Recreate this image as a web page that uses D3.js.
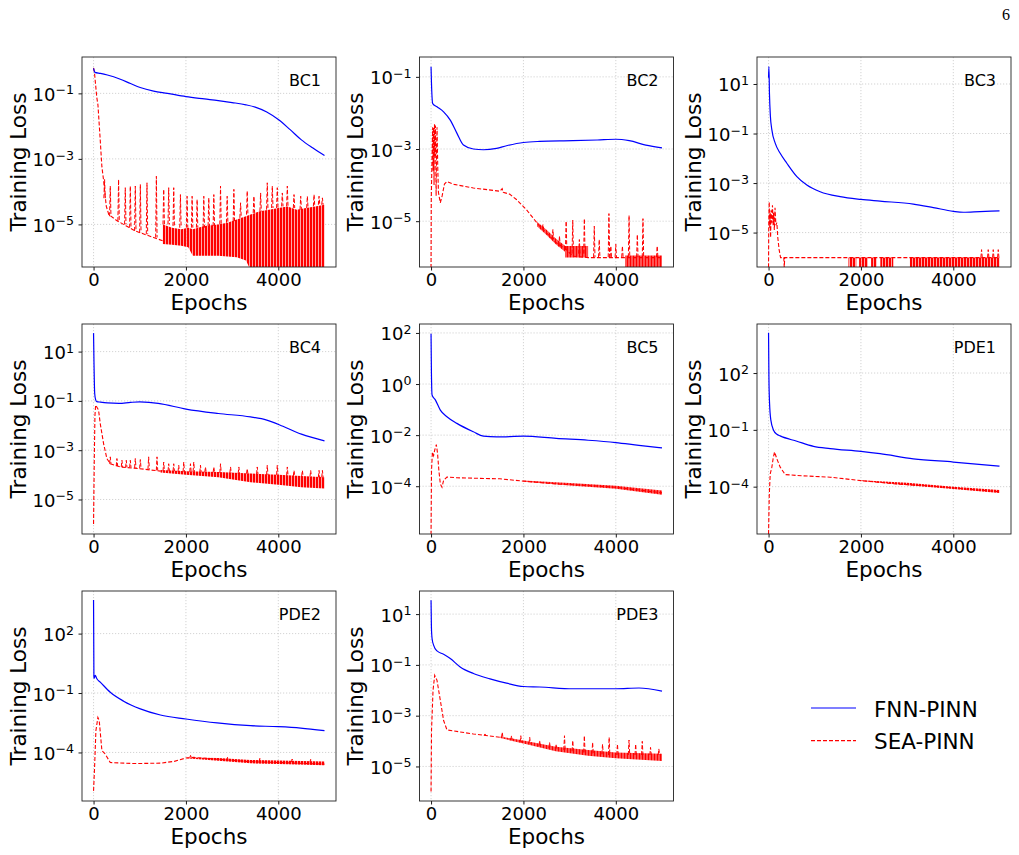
<!DOCTYPE html>
<html>
<head>
<meta charset="utf-8">
<script src="https://cdn.jsdelivr.net/npm/d3@7"></script>
<style>
  body { margin: 0; background: #fff; }
  svg { font-family: "DejaVu Sans", sans-serif; }
</style>
</head>
<body>
<svg id="chart" width="1019" height="855"></svg>
<script>
// values are log10(training loss)
var panelNames = ["BC1", "BC2", "BC3", "BC4", "BC5", "PDE1", "PDE2", "PDE3"];
var yLimits = [[-6.30, 0.11], [-6.27, -0.45], [-6.39, 2.09], [-6.40, 2.12],
               [-5.87, 2.35], [-6.50, 4.59], [-6.45, 4.15], [-6.36, 1.91]];
var yTickExps = [[-1, -3, -5], [-1, -3, -5], [1, -1, -3, -5], [1, -1, -3, -5],
                 [2, 0, -2, -4], [2, -1, -4], [2, -1, -4], [1, -1, -3, -5]];
var xTicks = [0, 2000, 4000];
var xLimits = [-250, 5249];
var seriesNames = ["FNN-PINN", "SEA-PINN"];

// FNN-PINN
var bc1Fnn = [[0,-0.24],[30,-0.36],[150,-0.39],[300,-0.44],[580,-0.57],[800,-0.70],[1010,-0.82],[1300,-0.93],[1600,-1.0],[2000,-1.1],[2400,-1.17],[2700,-1.22],[3000,-1.28],[3300,-1.35],[3500,-1.42],[3750,-1.57],[4000,-1.8],[4250,-2.1],[4500,-2.42],[4750,-2.67],[5000,-2.9]];
var bc2Fnn = [[0,-0.72],[10,-1.2],[36,-1.74],[129,-1.83],[272,-1.97],[416,-2.2],[559,-2.56],[702,-2.89],[917,-3.0],[1133,-3.02],[1419,-2.98],[1634,-2.91],[2000,-2.82],[2350,-2.79],[3070,-2.77],[3600,-2.75],[4000,-2.73],[4290,-2.77],[4650,-2.89],[5000,-2.97]];
var bc3Fnn = [[0,1.25],[8,1.7],[20,0.6],[40,-0.3],[72,-0.85],[144,-1.39],[252,-1.8],[396,-2.2],[613,-2.74],[829,-3.08],[1117,-3.35],[1549,-3.55],[2000,-3.66],[2414,-3.73],[3135,-3.85],[3567,-3.99],[4000,-4.14],[4216,-4.18],[4576,-4.15],[5000,-4.12]];
var bc4Fnn = [[0,1.75],[10,0.5],[25,-0.7],[45,-0.95],[70,-1.03],[150,-1.05],[300,-1.08],[550,-1.1],[800,-1.06],[1000,-1.04],[1200,-1.06],[1400,-1.1],[2000,-1.33],[2700,-1.51],[3400,-1.65],[3750,-1.78],[4100,-2.03],[4500,-2.35],[5000,-2.62]];
var bc5Fnn = [[0,1.97],[8,0.5],[22,-0.43],[93,-0.62],[201,-1.02],[344,-1.28],[559,-1.54],[917,-1.87],[1133,-2.04],[1419,-2.07],[2000,-2.04],[2710,-2.13],[3400,-2.2],[4000,-2.29],[4500,-2.4],[5000,-2.5]];
var pde1Fnn = [[0,4.13],[8,1.82],[22,0.4],[50,-0.49],[108,-1.02],[180,-1.23],[252,-1.32],[613,-1.6],[973,-1.87],[1333,-1.99],[2000,-2.14],[2414,-2.26],[3135,-2.53],[4000,-2.7],[5000,-2.92]];
var pde2Fnn = [[0,3.69],[8,-0.2],[14,-0.25],[36,-0.11],[72,-0.28],[145,-0.45],[362,-0.96],[651,-1.41],[1013,-1.8],[1447,-2.11],[2000,-2.31],[2676,-2.51],[3400,-2.65],[4000,-2.7],[4485,-2.77],[5000,-2.9]];
var pde3Fnn = [[0,1.55],[8,0.5],[22,0.04],[57,-0.23],[129,-0.45],[272,-0.58],[416,-0.75],[631,-1.08],[917,-1.34],[1276,-1.55],[1634,-1.72],[2000,-1.85],[2351,-1.87],[3068,-1.94],[4000,-1.94],[4502,-1.91],[5000,-2.03]];

// SEA-PINN main trace
var bc1Sea = [[0,-0.22],[20,-0.37],[70,-1.12],[95,-1.35],[145,-2.43],[180,-3.23],[215,-3.63],[275,-4.44],[330,-4.7],[500,-4.88],[700,-5.04],[900,-5.2],[1100,-5.3],[1300,-5.4],[1500,-5.5]];
var bc2Sea = [[0,-6.3],[5,-4.4],[20,-3.3],[35,-2.4],[45,-3.6],[55,-2.4],[65,-4.0],[75,-2.3],[85,-3.2],[95,-2.35],[110,-4.3],[120,-3.0],[130,-2.4],[145,-3.5],[160,-4.2],[200,-4.49],[240,-4.3],[290,-3.97],[344,-3.9],[500,-3.98],[917,-4.08],[1491,-4.17],[1540,-4.1],[1560,-4.2],[1700,-4.25],[1849,-4.4],[2064,-4.68],[2208,-4.91],[2351,-5.14],[2494,-5.32],[2710,-5.6],[2925,-5.78],[3068,-5.97],[3400,-6.01],[5000,-6.01]];
var bc3Sea = [[0,-6.4],[5,-4.5],[15,-3.76],[25,-4.8],[35,-4.2],[45,-5.2],[55,-4.1],[70,-4.6],[85,-3.9],[100,-4.7],[110,-4.2],[125,-4.9],[140,-4.0],[160,-4.7],[180,-4.6],[200,-5.2],[230,-5.7],[260,-6.01],[330,-6.01],[340,-6.4],[350,-6.01],[5000,-6.01]];
var bc4Sea = [[0,-5.99],[15,-3.5],[30,-1.6],[45,-1.17],[70,-1.25],[108,-1.37],[145,-1.92],[217,-2.73],[289,-3.34],[362,-3.55],[579,-3.68],[1000,-3.75],[1450,-3.85]];
var bc5Sea = [[0,-5.9],[10,-3.38],[30,-2.66],[55,-2.8],[79,-2.59],[100,-2.45],[115,-2.37],[140,-2.7],[170,-3.4],[201,-3.91],[237,-4.04],[272,-3.77],[344,-3.64],[559,-3.67],[1491,-3.71],[2000,-3.8],[2710,-3.91],[3400,-3.97],[4000,-4.04],[4500,-4.15],[5000,-4.26]];
var pde1Sea = [[0,-6.5],[15,-4.5],[36,-3.33],[72,-2.97],[100,-2.5],[130,-2.17],[180,-2.53],[252,-2.97],[360,-3.36],[613,-3.41],[1333,-3.5],[2000,-3.68],[2775,-3.86],[3400,-3.95],[4000,-4.07],[5000,-4.27]];
var pde2Sea = [[0,-5.94],[22,-4.76],[51,-2.9],[94,-2.23],[123,-2.39],[181,-3.91],[253,-4.08],[362,-4.51],[868,-4.56],[1447,-4.54],[1750,-4.45],[2000,-4.28],[2170,-4.25],[2676,-4.34],[3400,-4.47],[4000,-4.51],[5000,-4.59]];
var pde3Sea = [[0,-5.99],[10,-3.59],[43,-2.0],[79,-1.41],[129,-1.61],[201,-2.4],[272,-3.19],[344,-3.56],[917,-3.72],[1491,-3.85]];

// SEA-PINN noise envelope: [epoch, low, high]
var bc1Bands = [[[1500,-5.6,-5.0],[1700,-5.62,-5.1],[1900,-5.65,-5.15],[2050,-5.7,-5.1],[2150,-5.96,-5.15],[2400,-5.96,-5.05],[2700,-5.96,-5.0],[2900,-5.98,-4.95],[3100,-6.0,-4.85],[3300,-6.1,-4.75],[3400,-6.4,-4.7],[3600,-6.4,-4.6],[3800,-6.4,-4.55],[4000,-6.4,-4.5],[4200,-6.4,-4.45],[4400,-6.4,-4.55],[4600,-6.4,-4.5],[4800,-6.4,-4.45],[5000,-6.4,-4.4]]];
var bc2Bands = [[[2300,-5.15,-5.02],[2500,-5.38,-5.24],[2700,-5.64,-5.48],[2900,-5.85,-5.68]],
                [[2900,-6.01,-5.69],[3400,-6.01,-5.69]],
                [[4200,-6.3,-5.95],[5000,-6.3,-5.95]]];
var bc3Bands = [[[1730,-6.4,-6.01],[1900,-6.4,-6.01]], [[1960,-6.4,-6.01],[2150,-6.4,-6.01]],
                [[2220,-6.4,-6.01],[2340,-6.4,-6.01]], [[2420,-6.4,-6.01],[2700,-6.4,-6.01]],
                [[3060,-6.4,-6.01],[5000,-6.4,-6.01]]];
var bc4Bands = [[[1450,-3.9,-3.8],[2000,-4.0,-3.85],[2700,-4.1,-3.88],[3400,-4.3,-3.95],[4000,-4.4,-4.0],[4500,-4.5,-4.05],[5000,-4.55,-4.1]]];
var bc5Bands = [[[2000,-3.82,-3.78],[3000,-3.97,-3.87],[4000,-4.1,-3.98],[5000,-4.33,-4.17]]];
var pde1Bands = [[[2000,-3.7,-3.66],[3000,-3.93,-3.8],[4000,-4.12,-4.0],[5000,-4.33,-4.18]]];
var pde2Bands = [[[2000,-4.29,-4.25],[2700,-4.42,-4.28],[3400,-4.55,-4.38],[4000,-4.58,-4.4],[5000,-4.65,-4.45]]];
var pde3Bands = [[[1500,-3.88,-3.82],[2000,-4.1,-3.98],[2700,-4.4,-4.22],[3400,-4.58,-4.35],[4000,-4.68,-4.45],[5000,-4.78,-4.5]]];

// SEA-PINN spikes: [epoch, base, peak]
var bc1Spikes = [[239,-4.2,-3.63],[362,-4.75,-3.83],[542,-4.9,-3.63],[687,-5.0,-3.88],[796,-5.1,-3.83],[904,-5.2,-3.83],[1013,-5.25,-3.78],[1157,-5.3,-3.73],[1360,-5.4,-3.53],[1519,-5.0,-3.93],[1627,-5.0,-3.88],[1736,-5.05,-3.88],[1881,-5.1,-4.09],[2025,-5.1,-4.14],[2134,-5.1,-4.14],[2242,-5.1,-4.24],[2387,-5.1,-4.14],[2495,-5.05,-4.19],[2604,-5.05,-4.09],[2749,-5.0,-3.83],[2893,-4.95,-4.14],[3038,-4.9,-3.93],[3183,-4.8,-4.34],[3327,-4.7,-3.98],[3472,-4.65,-4.14],[3617,-4.6,-4.04],[3761,-4.55,-3.73],[3870,-4.5,-3.83],[3978,-4.5,-3.88],[4087,-4.45,-4.04],[4195,-4.45,-3.83],[4340,-4.5,-4.09],[4485,-4.55,-4.14],[4629,-4.5,-4.14],[4774,-4.45,-4.09],[4882,-4.4,-4.14],[4955,-4.4,-4.19]];
var bc2Spikes = [[2423,-5.2,-5.09],[2638,-5.5,-5.23],[2781,-5.7,-5.41],[2925,-5.8,-5.0],[3068,-5.9,-4.97],[3211,-5.9,-5.51],[3319,-5.9,-4.93],[3534,-6.0,-5.14],[3641,-6.0,-5.51],[3851,-6.0,-4.79],[3892,-6.0,-5.69],[4000,-6.0,-5.64],[4143,-6.0,-5.69],[4287,-6.0,-4.84],[4466,-6.0,-5.37],[4588,-6.0,-4.93],[4896,-6.0,-5.69]];
var bc3Spikes = [[4612,-6.01,-5.69],[4756,-6.01,-5.69],[4865,-6.01,-5.69],[4973,-6.01,-5.69]];
var bc4Spikes = [[362,-3.55,-3.27],[506,-3.65,-3.34],[615,-3.68,-3.41],[709,-3.7,-3.41],[796,-3.7,-3.41],[904,-3.72,-3.34],[1013,-3.74,-3.38],[1193,-3.78,-3.27],[1374,-3.82,-3.27],[1519,-3.85,-3.48],[1627,-3.85,-3.55],[1736,-3.85,-3.55],[1844,-3.87,-3.61],[1953,-3.88,-3.48],[2098,-3.88,-3.55],[2170,-3.88,-3.48],[2315,-3.9,-3.61],[2423,-3.9,-3.68],[2604,-3.9,-3.68],[2749,-3.92,-3.55],[2966,-3.93,-3.68],[3146,-3.95,-3.68],[3327,-3.95,-3.75],[3544,-3.97,-3.68],[3761,-4.0,-3.61],[3978,-4.0,-3.61],[4195,-4.03,-3.68],[4340,-4.05,-3.82],[4521,-4.05,-3.82],[4701,-4.07,-3.82],[4882,-4.1,-3.82],[4955,-4.1,-3.82]];
var bc5Spikes = [];
var pde1Spikes = [];
var pde2Spikes = [[2100,-4.25,-4.15],[2900,-4.38,-4.25],[3600,-4.45,-4.3],[4300,-4.48,-4.33],[4700,-4.5,-4.35]];
var pde3Spikes = [[1168,-3.78,-3.72],[1541,-3.86,-3.65],[1742,-3.95,-3.79],[1943,-4.05,-3.79],[2136,-4.1,-3.85],[2351,-4.2,-3.98],[2566,-4.28,-4.05],[2710,-4.3,-4.12],[2889,-4.35,-3.79],[3068,-4.4,-3.98],[3319,-4.45,-3.79],[3498,-4.5,-4.05],[3713,-4.52,-4.12],[3856,-4.55,-3.85],[4036,-4.55,-4.12],[4286,-4.55,-3.96],[4430,-4.55,-4.12],[4573,-4.55,-4.01],[4752,-4.55,-4.25],[4932,-4.55,-4.31]];

var fnnSeries = [bc1Fnn, bc2Fnn, bc3Fnn, bc4Fnn, bc5Fnn, pde1Fnn, pde2Fnn, pde3Fnn];
var seaSeries = [bc1Sea, bc2Sea, bc3Sea, bc4Sea, bc5Sea, pde1Sea, pde2Sea, pde3Sea];
var seaBands = [bc1Bands, bc2Bands, bc3Bands, bc4Bands, bc5Bands, pde1Bands, pde2Bands, pde3Bands];
var seaSpikes = [bc1Spikes, bc2Spikes, bc3Spikes, bc4Spikes, bc5Spikes, pde1Spikes, pde2Spikes, pde3Spikes];

(function() {
    var svg = d3.select("#chart");
    var colLeft = [82, 419.5, 757],
        rowTop = [57, 324, 591],
        w = 254,
        h = 210;
    var blue = "#0000ff", red = "#ff0000", dash = "4,2";

    function pow10(v) { return Math.pow(10, v); }

    // vertical hatch, looks like the dense dashed noise in the original
    var pat = svg.append("defs").append("pattern").attr("id", "hatch")
        .attr("patternUnits", "userSpaceOnUse").attr("width", 3).attr("height", 6);
    pat.append("rect").attr("width", 3).attr("height", 6).attr("fill", red).attr("fill-opacity", 0.35);
    pat.append("rect").attr("width", 2).attr("height", 6).attr("fill", red);

    panelNames.forEach(function(name, i) {
        var left = colLeft[i % 3], top = rowTop[Math.floor(i / 3)];
        var g = svg.append("g").attr("transform", "translate(" + left + "," + top + ")");

        var x = d3.scaleLinear().domain(xLimits).range([0, w]);
        var y = d3.scaleLog().domain([pow10(yLimits[i][0]), pow10(yLimits[i][1])]).range([h, 0]);
        var yTicks = yTickExps[i].map(pow10);

        // grid
        var grid = g.append("g");
        grid.selectAll("line.gx").data(xTicks).enter().append("line")
            .attr("x1", function(d) { return x(d); }).attr("x2", function(d) { return x(d); })
            .attr("y1", 0).attr("y2", h);
        grid.selectAll("line.gy").data(yTicks).enter().append("line")
            .attr("y1", function(d) { return y(d); }).attr("y2", function(d) { return y(d); })
            .attr("x1", 0).attr("x2", w);
        grid.selectAll("line").attr("stroke", "#c8c8c8").attr("stroke-width", 0.8)
            .attr("stroke-dasharray", "1.2,1.8");

        var clipId = "clip" + i;
        g.append("clipPath").attr("id", clipId).append("rect")
            .attr("width", w).attr("height", h);
        var plot = g.append("g").attr("clip-path", "url(#" + clipId + ")");

        var line = d3.line()
            .x(function(d) { return x(d[0]); })
            .y(function(d) { return y(pow10(d[1])); });
        var smooth = d3.line().curve(d3.curveMonotoneX)
            .x(function(d) { return x(d[0]); })
            .y(function(d) { return y(pow10(d[1])); });
        var area = d3.area()
            .x(function(d) { return x(d[0]); })
            .y0(function(d) { return y(pow10(d[1])); })
            .y1(function(d) { return y(pow10(d[2])); });

        // SEA-PINN
        plot.selectAll("path.band").data(seaBands[i]).enter().append("path")
            .attr("d", area)
            .attr("fill", "url(#hatch)");
        plot.selectAll("path.spike").data(seaSpikes[i]).enter().append("path")
            .attr("d", function(d) {
                return "M" + (x(d[0]) - 0.7) + "," + y(pow10(d[1])) +
                       "L" + x(d[0]) + "," + y(pow10(d[2])) +
                       "L" + (x(d[0]) + 0.7) + "," + y(pow10(d[1]));
            })
            .attr("fill", "none").attr("stroke", red).attr("stroke-width", 1)
            .attr("stroke-dasharray", dash);
        plot.append("path").datum(seaSeries[i])
            .attr("d", line)
            .attr("fill", "none").attr("stroke", red).attr("stroke-width", 1.1)
            .attr("stroke-dasharray", dash);

        // FNN-PINN
        plot.append("path").datum(fnnSeries[i])
            .attr("d", smooth)
            .attr("fill", "none").attr("stroke", blue).attr("stroke-width", 1.2);

        // axes
        var ax = g.append("g").attr("transform", "translate(0," + h + ")")
            .call(d3.axisBottom(x).tickValues(xTicks).tickSize(3.5).tickPadding(3)
                .tickFormat(d3.format("d")));
        var ay = g.append("g")
            .call(d3.axisLeft(y).tickValues(yTicks).tickSize(3.5).tickPadding(4.5)
                .tickFormat(function() { return ""; }));
        [ax, ay].forEach(function(a) {
            a.select(".domain").remove();
            a.attr("font-family", null).attr("font-size", 18);
            a.selectAll(".tick line").attr("stroke", "#000").attr("stroke-width", 0.9);
            a.selectAll(".tick text").attr("fill", "#000");
        });
        ay.selectAll(".tick text").each(function(d, k) {
            var t = d3.select(this).attr("dy", 7);
            var e = String(yTickExps[i][k]).replace("-", "\u2212");
            t.append("tspan").text("10");
            t.append("tspan").attr("dy", -6.5).attr("font-size", 12.6).text(e);
        });

        // frame
        g.append("rect").attr("width", w).attr("height", h)
            .attr("fill", "none").attr("stroke", "#222").attr("stroke-width", 0.9);

        g.append("text").attr("x", w - 15).attr("y", 29)
            .attr("text-anchor", "end").attr("font-size", 16).text(name);

        g.append("text").attr("x", w / 2).attr("y", h + 42.5)
            .attr("text-anchor", "middle").attr("font-size", 21.5).text("Epochs");
        g.append("text")
            .attr("transform", "translate(-56.5," + (h / 2) + ") rotate(-90)")
            .attr("text-anchor", "middle").attr("font-size", 21.5).text("Training Loss");
    });

    // legend
    var leg = svg.append("g").attr("transform", "translate(811,708)");
    seriesNames.forEach(function(s, k) {
        var row = leg.append("g").attr("transform", "translate(0," + (k * 32.6) + ")");
        row.append("line").attr("x1", 0).attr("x2", 45).attr("y1", 0).attr("y2", 0)
            .attr("stroke", k ? red : blue).attr("stroke-width", k ? 1.1 : 1.2)
            .attr("stroke-dasharray", k ? dash : null);
        row.append("text").attr("x", 63).attr("y", 8.5).attr("font-size", 21.5).text(s);
    });

    // page number
    svg.append("text").attr("x", 1006).attr("y", 20).attr("text-anchor", "middle")
        .attr("font-family", "'Liberation Serif', serif").attr("font-size", 16).text("6");
})();
</script>
</body>
</html>
